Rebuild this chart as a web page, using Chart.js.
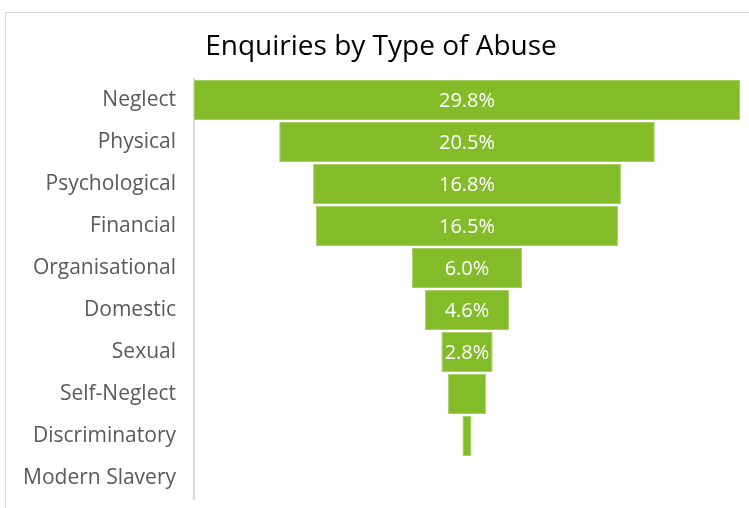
<!DOCTYPE html>
<html lang="en">
<head>
<meta charset="UTF-8">
<title>Enquiries by Type of Abuse</title>
<script src="https://cdn.jsdelivr.net/npm/chart.js"></script>
<style>
    html, body {
        margin: 0;
        padding: 0;
        overflow: hidden;
        background: #fff;
    }
    .frame {
        position: absolute;
        left: 5px;
        top: 12px;
        width: 800px;
        height: 600px;
        border: 1px solid #d9d9d9;
    }
    #chart {
        position: absolute;
        left: 0;
        top: 0;
    }
</style>
</head>
<body>
<div class="frame"></div>
<canvas id="chart" width="749" height="508"></canvas>
<script>
// data
const categories = ['Neglect', 'Physical', 'Psychological', 'Financial', 'Organisational',
                    'Domestic', 'Sexual', 'Self-Neglect', 'Discriminatory', 'Modern Slavery'];
const values = [29.8, 20.5, 16.8, 16.5, 6.0, 4.6, 2.8, 2.1, 0.5, 0.0];
const titleText = 'Enquiries by Type of Abuse';

const FONT = "'Open Sans', sans-serif";

// funnel: each bar floats symmetrically around zero
const spans = values.map(v => [-v / 2, v / 2]);
const half = Math.max(...values) / 2;

// title + value labels drawn on top
const funnelText = {
    id: 'funnelText',
    afterDatasetsDraw(chart) {
        const ctx = chart.ctx;
        const meta = chart.getDatasetMeta(0);
        ctx.save();
        ctx.textAlign = 'center';
        ctx.textBaseline = 'middle';
        ctx.fillStyle = '#fff';
        ctx.font = '20px ' + FONT;
        meta.data.forEach((bar, i) => {
            const txt = values[i].toFixed(1) + '%';
            const w = Math.abs(bar.x - bar.base);
            // skip labels that don't fit inside the bar
            if (ctx.measureText(txt).width + 4 < w) {
                ctx.fillText(txt, (bar.x + bar.base) / 2, bar.y + 1);
            }
        });
        ctx.fillStyle = '#000';
        ctx.font = '28px ' + FONT;
        ctx.fillText(titleText, 381, 47);
        ctx.restore();
    }
};

new Chart(document.getElementById('chart'), {
    type: 'bar',
    data: {
        labels: categories,
        datasets: [{
            data: spans,
            backgroundColor: '#84bb29',
            borderColor: '#a6d064',
            borderWidth: 1,
            borderSkipped: false,
            barPercentage: 0.95,
            categoryPercentage: 1
        }]
    },
    options: {
        indexAxis: 'y',
        responsive: false,
        animation: false,
        layout: { padding: { top: 79, right: 9, bottom: 9, left: 0 } },
        plugins: {
            legend: { display: false },
            tooltip: { enabled: false },
            title: { display: false }
        },
        scales: {
            x: {
                display: false,
                min: -half,
                max: half
            },
            y: {
                afterFit(scale) {
                    scale.width = 194;
                    scale.paddingTop = 0;
                    scale.paddingBottom = 0;
                },
                grid: { display: false, drawTicks: false },
                border: { display: true, color: '#d9d9d9', width: 2 },
                ticks: {
                    color: '#595959',
                    padding: 18,
                    font: { family: FONT, size: 21 }
                }
            }
        }
    },
    plugins: [funnelText]
});
</script>
</body>
</html>
